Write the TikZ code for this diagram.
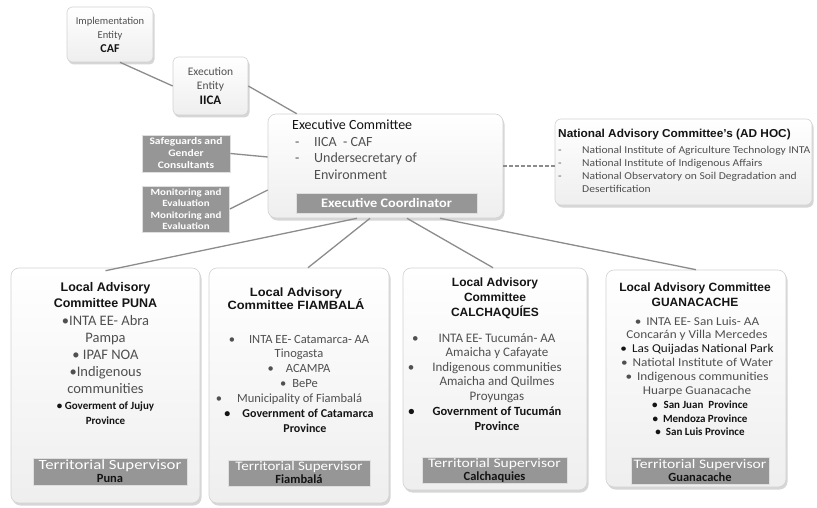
\documentclass[tikz,border=0pt]{standalone}
\usepackage{fontspec}
\setmainfont{Carlito}
\newfontfamily\arf{Liberation Sans}
\usetikzlibrary{shadows}
\definecolor{barg}{RGB}{150,150,150}
\definecolor{linec}{RGB}{140,140,140}
\definecolor{txtg}{RGB}{80,80,80}
\definecolor{txtd}{RGB}{20,20,20}
\newcommand{\myfs}[2]{\fontsize{#1}{#2}\selectfont}
\newcommand{\sx}[1]{\addfontfeatures{FakeStretch=#1}}
\tikzset{
 panel/.style={draw=gray!35, line width=0.6pt, rounded corners=8pt, top color=white, bottom color=gray!13, drop shadow={shadow xshift=1.5pt, shadow yshift=-2.5pt, opacity=0.4, fill=gray!80}, inner sep=0pt},
 bar/.style={fill=barg, draw=gray!25, line width=0.8pt, inner sep=0pt, text=white, align=center},
 conn/.style={draw=linec, line width=1.3pt},
 txt/.style={inner sep=0pt, align=center, text=txtg},
 ttl/.style={inner sep=0pt, align=center, text=txtd, font=\arf\bfseries\myfs{12}{15}},
}
\begin{document}
\begin{tikzpicture}[x=1pt,y=-1pt]
\useasboundingbox[fill=white] (0,0) rectangle (817,508);

% top entities
\node[panel, rounded corners=5pt, minimum width=86pt, minimum height=55pt, font=\myfs{10.5}{14}, text=txtg, align=center] (caf) at (110,34.5) {Implementation\\Entity\\{\bfseries\color{txtd}\myfs{12}{14}CAF}};
\node[panel, rounded corners=5pt, minimum width=75pt, minimum height=58pt, font=\myfs{11.5}{14.5}, text=txtg, align=center] (iica) at (210.5,86) {Execution\\Entity\\{\bfseries\color{txtd}\myfs{13}{14.5}IICA}};

% executive committee
\node[panel, minimum width=235pt, minimum height=104pt] (exec) at (385.5,166) {};
\node[inner sep=0pt, anchor=west, align=left, text=txtg, font=\myfs{14}{16.5}] (exect) at (292,149.5) {{\color{txtd}Executive Committee}\\\hspace*{3pt}\makebox[19pt][l]{-}IICA\ \ - CAF\\\hspace*{3pt}\makebox[19pt][l]{-}Undersecretary of\\\hspace*{22pt}Environment};
\node[bar, minimum width=181pt, minimum height=20pt, font=\bfseries\myfs{13}{15}\sx{1.1}] (coord) at (386.5,203) {Executive Coordinator};

% side boxes
\node[bar, minimum width=88pt, minimum height=37pt, font=\bfseries\myfs{10}{12}\sx{1.15}] (safe) at (186,153.5) {Safeguards and\\Gender\\Consultants};
\node[bar, minimum width=87pt, minimum height=46pt, font=\bfseries\myfs{9.5}{11.5}\sx{1.15}] (mon) at (186,209) {Monitoring and\\Evaluation\\Monitoring and\\Evaluation};

% national advisory
\node[panel, rounded corners=6pt, minimum width=257pt, minimum height=86pt] (nat) at (683.5,162) {};
\node[inner sep=0pt, anchor=west, text=txtd, font=\arf\bfseries\myfs{11.5}{14}\sx{1.03}] (natt) at (558,135) {National Advisory Committee’s (AD HOC)};
\node[inner sep=0pt, anchor=north west, align=left, text=txtg, font=\myfs{10.5}{13}\sx{1.1}] (nati) at (558,146) {\makebox[24pt][l]{-}National Institute of Agriculture Technology INTA\\\makebox[24pt][l]{-}National Institute of Indigenous Affairs\\\makebox[24pt][l]{-}National Observatory on Soil Degradation and\\\hspace*{24pt}Desertification};

% PUNA
\node[panel, minimum width=189pt, minimum height=235pt] (puna) at (105.5,385.5) {};
\node[ttl, font=\arf\bfseries\myfs{12.5}{16}] (punat) at (105.5,295) {Local Advisory\\Committee PUNA};
\node[txt, font=\myfs{14.5}{17}] (punai) at (105.5,355) {•INTA EE- Abra\\Pampa\\• IPAF NOA\\•Indigenous\\communities};
\node[txt, text=txtd, font=\bfseries\myfs{11}{15}] (punab) at (105.5,413) {• Goverment of Jujuy\\Province};
\node[bar, minimum width=154pt, minimum height=27pt, font=\myfs{14}{13}] (punas) at (110,471.5) {{\sx{1.2}Territorial Supervisor}\\{\color{txtd}\bfseries\myfs{12.5}{13}Puna}};

% FIAMBALA
\node[panel, minimum width=180pt, minimum height=235pt] (fiam) at (299,385.5) {};
\node[ttl, font=\arf\bfseries\myfs{12}{13.5}\sx{1.07}] (fiamt) at (296,298.5) {Local Advisory\\Committee FIAMBALÁ};
\node[txt, font=\myfs{12.5}{14.75}] (fiami) at (299,369.5) {•\hspace{14pt}INTA EE- Catamarca- AA\\Tinogasta\\•\hspace{12pt}ACAMPA\hspace*{28pt}\\•\hspace{6pt}BePe\hspace*{23pt}\\•\hspace{15pt}Municipality of Fiambalá\hspace*{20pt}};
\node[txt, text=txtd, font=\bfseries\myfs{12}{15}] (fiamb) at (299,420.5) {•\hspace{12pt}Government of Catamarca\\\hspace*{12pt}Province};
\node[bar, minimum width=142pt, minimum height=26pt, font=\myfs{13}{13}] (fiams) at (299,473) {{\sx{1.15}Territorial Supervisor}\\{\color{txtd}\bfseries\myfs{12.5}{13}Fiambalá}};

% CALCHAQUIES
\node[panel, minimum width=184pt, minimum height=222pt] (calc) at (495,379) {};
\node[ttl, font=\arf\bfseries\myfs{12}{15}] (calct) at (495,298) {Local Advisory\\Committee\\CALCHAQUÍES};
\node[txt, font=\myfs{13}{14.5}] (calci) at (497,368) {\llap{•\hspace{20pt}}INTA EE- Tucumán- AA\\Amaicha y Cafayate\\\llap{•\hspace{18pt}}Indigenous communities\\Amaicha and Quilmes\\Proyungas};
\node[txt, text=txtd, font=\bfseries\myfs{12.5}{15}] (calcb) at (497,418.5) {\llap{•\hspace{18pt}}Government of Tucumán\\Province};
\node[bar, minimum width=145pt, minimum height=26pt, font=\myfs{13}{13}] (calcs) at (494.5,470) {{\sx{1.2}Territorial Supervisor}\\{\color{txtd}\bfseries\myfs{12.5}{13}Calchaquies}};

% GUANACACHE
\node[panel, minimum width=180pt, minimum height=217pt] (guan) at (696,378.5) {};
\node[ttl, font=\arf\bfseries\myfs{12}{15}] (guant) at (695,294.5) {Local Advisory Committee\\GUANACACHE};
\node[txt, font=\myfs{12}{13.8}\sx{1.1}] (guani) at (697,356.5) {•\hspace{5pt}INTA EE- San Luis- AA\\Concarán y Villa Mercedes\\{\color{txtd}•\hspace{5pt}Las Quijadas National Park}\\•\hspace{5pt}Natiotal Institute of Water\\•\hspace{5pt}Indigenous communities\\Huarpe Guanacache};
\node[txt, text=txtd, font=\bfseries\myfs{11}{13.5}] (guanb) at (700,418.5) {•\hspace{6pt}San Juan\ \ Province\\•\hspace{5pt}Mendoza Province\\•\hspace{5pt}San Luis Province};
\node[bar, minimum width=138pt, minimum height=27pt, font=\myfs{13}{13}] (guans) at (700,471) {{\sx{1.2}Territorial Supervisor}\\{\color{txtd}\bfseries\myfs{12.5}{13}Guanacache}};

% connectors
\draw[conn] ([xshift=10pt]caf.south) -- (iica.west);
\draw[conn] (iica.east) -- ([xshift=29pt]exec.north west);
\draw[conn] (safe.east) -- ([yshift=9pt]exec.west);
\draw[conn] (mon.east) -- ([yshift=-24pt]exec.west);
\draw[conn, dash pattern=on 4pt off 2pt] (exec.east) -- (nat.west |- exec.east);
\draw[conn] ([xshift=-28.5pt]exec.south) -- ([yshift=-3pt]puna.north);
\draw[conn] ([xshift=-15.5pt]exec.south) -- ([xshift=9pt]fiam.north);
\draw[conn] ([xshift=21.5pt]exec.south) -- ([xshift=-2pt]calc.north);
\draw[conn] ([xshift=54.5pt]exec.south) -- (guan.north);
\end{tikzpicture}
\end{document}
